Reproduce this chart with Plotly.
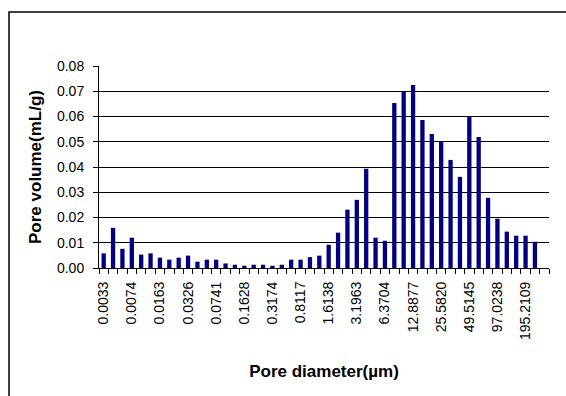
import plotly.graph_objects as go

# Pore volume per size class (mL/g), one value per category slot
pore_volume = [
    0.0058, 0.0159, 0.0076, 0.0120, 0.0053, 0.0058, 0.0041, 0.0033,
    0.0041, 0.0049, 0.0025, 0.0033, 0.0033, 0.0018, 0.0013, 0.0009,
    0.0013, 0.0013, 0.0009, 0.0013, 0.0033, 0.0033, 0.0043, 0.0049,
    0.0092, 0.0140, 0.0231, 0.0270, 0.0393, 0.0120, 0.0108, 0.0653,
    0.0697, 0.0725, 0.0586, 0.0531, 0.0503, 0.0428, 0.0361, 0.0602,
    0.0519, 0.0278, 0.0195, 0.0144, 0.0128, 0.0128, 0.0104, 0.0,
]

# Pore diameter labels (µm), shown on every third category
diameter_labels = [
    "0.0033", "0.0074", "0.0163", "0.0326", "0.0741", "0.1628",
    "0.3174", "0.8117", "1.6138", "3.1963", "6.3704", "12.8877",
    "25.5820", "49.5145", "97.0238", "195.2109",
]
label_step = 3

n = len(pore_volume)
positions = list(range(1, n + 1))
label_positions = positions[::label_step][: len(diameter_labels)]
boundaries = [p - 0.5 for p in positions] + [n + 0.5]

FONT = "Liberation Sans, Arial, sans-serif"

fig = go.Figure(
    go.Bar(
        x=positions,
        y=pore_volume,
        marker=dict(color="#000080", line=dict(width=0)),
        width=0.46,
    )
)

fig.update_layout(
    width=566,
    height=396,
    margin=dict(l=99, r=17, t=66, b=128),
    paper_bgcolor="white",
    plot_bgcolor="white",
    showlegend=False,
    font=dict(family=FONT, color="black", size=14),
    shapes=[
        dict(
            type="rect", xref="paper", yref="paper",
            x0=-0.2, x1=1.2, y0=-1.2, y1=1.267,
            line=dict(color="black", width=1.5),
            fillcolor="rgba(0,0,0,0)", layer="below",
        )
    ],
)

fig.update_xaxes(
    range=[0.5, n + 0.5],
    tickmode="array",
    tickvals=label_positions,
    ticktext=diameter_labels,
    tickangle=-90,
    ticks="",
    ticklabelstandoff=7,
    tickfont=dict(family=FONT, size=14, color="black"),
    minor=dict(
        tickmode="array",
        tickvals=boundaries,
        ticks="outside",
        ticklen=5,
        tickcolor="black",
        tickwidth=1,
        showgrid=False,
    ),
    showline=True,
    linecolor="black",
    linewidth=1,
    showgrid=False,
    zeroline=False,
    title=dict(
        text="<b>Pore diameter(µm)</b>",
        font=dict(family=FONT, size=17, color="black"),
        standoff=26,
    ),
)

fig.update_yaxes(
    range=[0, 0.08],
    dtick=0.01,
    tick0=0,
    tickformat=".2f",
    ticks="outside",
    ticklen=5,
    tickcolor="black",
    tickwidth=1,
    ticklabelstandoff=6,
    tickfont=dict(family=FONT, size=14, color="black"),
    showline=True,
    linecolor="black",
    linewidth=1,
    showgrid=True,
    gridcolor="black",
    gridwidth=1,
    zeroline=False,
    title=dict(
        text="<b>Pore volume(mL/g)</b>",
        font=dict(family=FONT, size=17, color="black"),
        standoff=11,
    ),
)

fig.write_html("out.html")
